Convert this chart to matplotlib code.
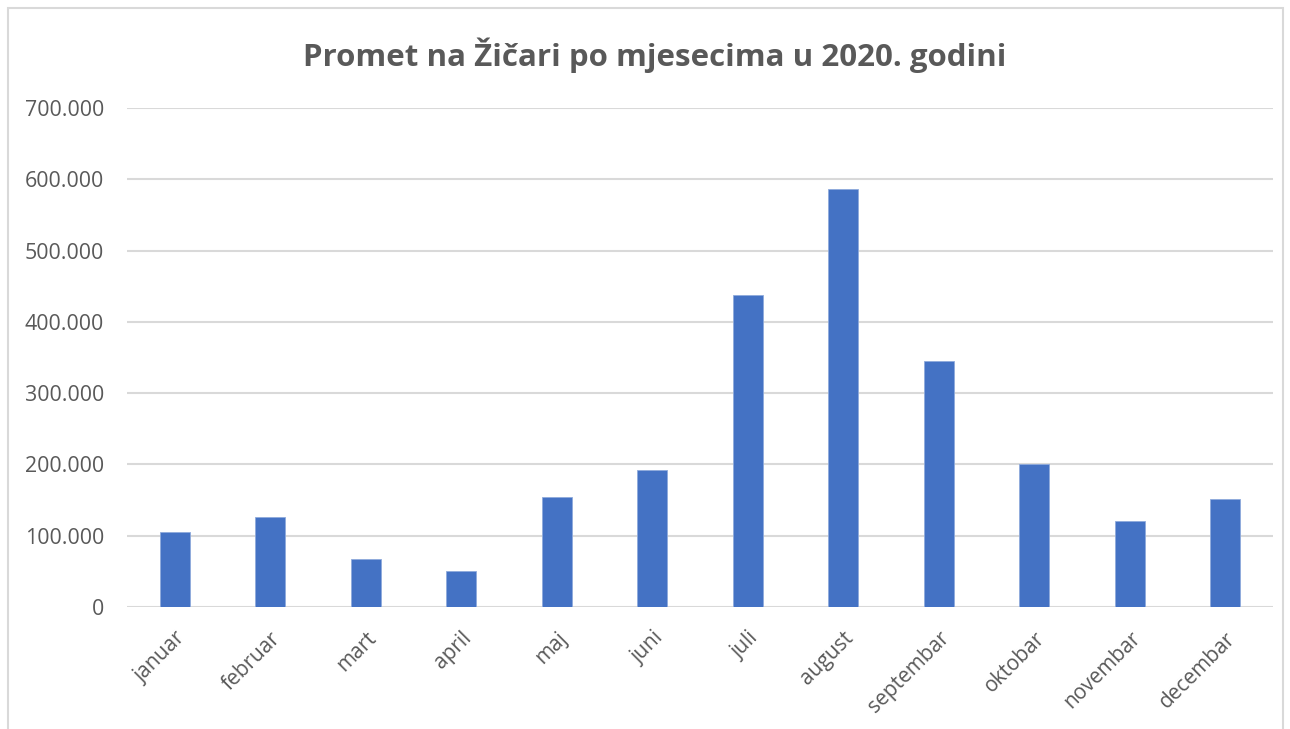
import matplotlib
matplotlib.use("Agg")
import matplotlib.pyplot as plt
from matplotlib.ticker import FuncFormatter, MultipleLocator
from matplotlib.patches import Rectangle

months = ["januar", "februar", "mart", "april", "maj", "juni", "juli",
          "august", "septembar", "oktobar", "novembar", "decembar"]
values = [105700, 126000, 67800, 50500, 154700, 192800, 438300,
          585900, 345000, 200500, 121000, 151400]
title = "Promet na Žičari po mjesecima u 2020. godini"

W, H = 1290, 729
fig = plt.figure(figsize=(W / 100, H / 100), dpi=100)
fig.patch.set_facecolor("white")

# outer chart border
fig.patches.append(Rectangle((8 / W, -0.02), (1283 - 8) / W, (H - 8) / H + 0.02,
                             transform=fig.transFigure, fill=False,
                             edgecolor="#d9d9d9", linewidth=1.5))

ax = fig.add_axes([127 / W, (H - 607) / H, (1273 - 127) / W, (607 - 108) / H])
x = list(range(len(months)))
ax.bar(x, values, width=0.31, color="#4472C4", edgecolor="#8faadc", linewidth=0.6, zorder=3)
ax.set_xlim(-0.5, len(months) - 0.5)
ax.set_ylim(0, 700000)
ax.yaxis.set_major_locator(MultipleLocator(100000))
ax.yaxis.set_major_formatter(FuncFormatter(lambda v, p: f"{int(v):,}".replace(",", ".")))
ax.grid(axis="y", color="#d9d9d9", linewidth=1.5, zorder=0)
for s in ax.spines.values():
    s.set_visible(False)
ax.tick_params(axis="both", length=0, colors="#595959", labelsize=15)
ax.tick_params(axis="y", pad=16.5, labelsize=15.4)
ax.set_xticks(x)
ax.set_xticklabels(months, rotation=45, ha="right", rotation_mode="anchor", family="Open Sans")
for lab in ax.get_yticklabels():
    lab.set_family("Open Sans")
ax.tick_params(axis="x", pad=15)

fig.text(655 / W, (H - 55) / H, title, ha="center", va="center", fontsize=22.5,
         fontweight="bold", color="#595959", family="Open Sans")

fig.savefig("out.png", dpi=100, facecolor="white")
